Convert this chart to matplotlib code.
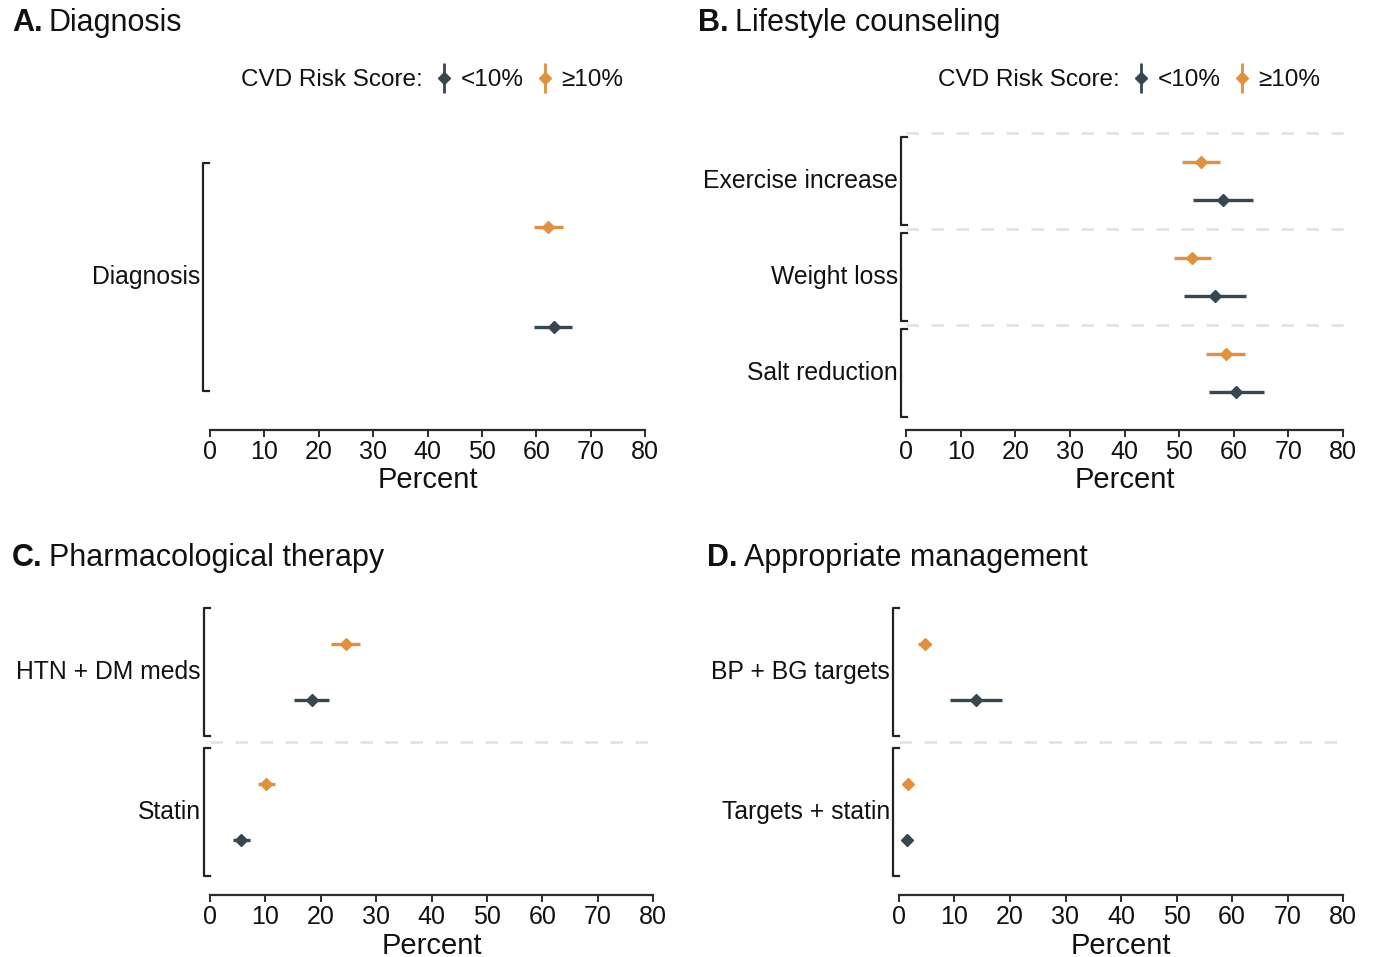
import matplotlib
matplotlib.use("Agg")
import matplotlib.pyplot as plt
from matplotlib.lines import Line2D
import matplotlib.transforms as mtransforms

plt.rcParams['font.family'] = ['Liberation Sans', 'DejaVu Sans']

DARK = '#37474f'
ORANGE = '#e0913f'
AXCOL = '#2b2b2b'

# panel data: groups listed top to bottom
a_groups = ['Diagnosis']
a_lo_est = [63.2]
a_lo_ci = [(59.6, 66.6)]
a_hi_est = [62.2]
a_hi_ci = [(59.6, 65.0)]

b_groups = ['Exercise increase', 'Weight loss', 'Salt reduction']
b_lo_est = [58.0, 56.5, 60.5]
b_lo_ci = [(52.6, 63.5), (50.9, 62.2), (55.4, 65.6)]
b_hi_est = [54.0, 52.4, 58.5]
b_hi_ci = [(50.6, 57.5), (49.0, 55.9), (55.0, 62.1)]

c_groups = ['HTN + DM meds', 'Statin']
c_lo_est = [18.4, 5.6]
c_lo_ci = [(15.2, 21.5), (4.1, 7.2)]
c_hi_est = [24.5, 10.2]
c_hi_ci = [(21.8, 27.1), (8.7, 11.8)]

d_groups = ['BP + BG targets', 'Targets + statin']
d_lo_est = [13.8, 1.4]
d_lo_ci = [(9.2, 18.5), (0.8, 2.0)]
d_hi_est = [4.6, 1.65]
d_hi_ci = [(3.5, 5.8), (1.0, 2.3)]

xticks = [0, 10, 20, 30, 40, 50, 60, 70, 80]

W, H = 1374, 957
fig = plt.figure(figsize=(W / 100, H / 100), dpi=100)


def px_axes(left, right, top, bottom):
    return fig.add_axes([left / W, 1 - bottom / H, (right - left) / W, (bottom - top) / H])


def draw_panel(ax, groups, lo_est, lo_ci, hi_est, hi_ci, pad_bottom, top_line, bracket_dx):
    n = len(groups)
    ax.set_xlim(0, 80)
    ax.set_ylim(-0.5 - pad_bottom, n - 0.5)
    for s in ['top', 'right', 'left']:
        ax.spines[s].set_visible(False)
    ax.spines['bottom'].set_color(AXCOL)
    ax.spines['bottom'].set_linewidth(1.6)
    ax.set_yticks([])
    ax.set_xticks(xticks)
    ax.tick_params(axis='x', length=5, width=1.4, color=AXCOL, labelsize=18, pad=2,
                   labelcolor='#111111')
    ax.set_xlabel('Percent', fontsize=21, labelpad=2, color='#111111')

    trans = mtransforms.blended_transform_factory(ax.transAxes, ax.transData)
    bx = -bracket_dx / ax.bbox.width
    sx = 6 / ax.bbox.width
    for i, g in enumerate(groups):
        yc = n - 1 - i
        # error bars
        lo, hi = lo_ci[i]
        ax.plot([lo, hi], [yc - 0.2, yc - 0.2], color=DARK, lw=2.4, solid_capstyle='butt')
        ax.plot(lo_est[i], yc - 0.2, marker='D', color=DARK, ms=6.5)
        lo, hi = hi_ci[i]
        ax.plot([lo, hi], [yc + 0.2, yc + 0.2], color=ORANGE, lw=2.4, solid_capstyle='butt')
        ax.plot(hi_est[i], yc + 0.2, marker='D', color=ORANGE, ms=6.5)
        # bracket
        y0, y1 = yc - 0.455, yc + 0.455
        ax.plot([bx + sx, bx, bx, bx + sx], [y0, y0, y1, y1], color='#222222', lw=1.6,
                transform=trans, clip_on=False)
        ax.text(bx - 3 / ax.bbox.width, yc, g, transform=trans, ha='right', va='center',
                fontsize=17.8, color='#111111')
        # separators
        if i > 0 or top_line:
            ax.plot([0, 1], [yc + 0.5, yc + 0.5], color='#e3e3e3', lw=2,
                    dashes=(4.5, 4.5), transform=trans, clip_on=False)


def add_legend(ax):
    blank = Line2D([], [], linestyle='None')
    h_lo = (Line2D([], [], color=DARK, marker='|', ms=22, mew=2, linestyle='None'),
            Line2D([], [], color=DARK, marker='D', ms=6, linestyle='None'))
    h_hi = (Line2D([], [], color=ORANGE, marker='|', ms=22, mew=2, linestyle='None'),
            Line2D([], [], color=ORANGE, marker='D', ms=6, linestyle='None'))
    tr = mtransforms.blended_transform_factory(ax.transAxes, fig.transFigure)
    leg = ax.legend([blank, h_lo, h_hi], ['CVD Risk Score:', '<10%', '\u226510%'],
                    ncol=3, loc='center', bbox_to_anchor=(0.485, 1 - 80 / H),
                    bbox_transform=tr, frameon=False, fontsize=17.5, handlelength=0.5,
                    handletextpad=0.45, columnspacing=0.6)
    for t in leg.get_texts():
        t.set_color('#111111')


# panel A
axA = px_axes(210, 645, 152, 430)
draw_panel(axA, a_groups, a_lo_est, a_lo_ci, a_hi_est, a_hi_ci, 28 / 250, False, 7)
add_legend(axA)

# panel B
axB = px_axes(906, 1343, 133, 430)
draw_panel(axB, b_groups, b_lo_est, b_lo_ci, b_hi_est, b_hi_ci, 9 / 96, True, 5)
add_legend(axB)

# panel C
axC = px_axes(210, 653, 602, 895)
draw_panel(axC, c_groups, c_lo_est, c_lo_ci, c_hi_est, c_hi_ci, 13 / 140, False, 6)

# panel D
axD = px_axes(899, 1343, 602, 895)
draw_panel(axD, d_groups, d_lo_est, d_lo_ci, d_hi_est, d_hi_ci, 13 / 140, False, 6)

# panel titles
for x, y, letter, title in [(12, 23, 'A.', 'Diagnosis'), (698, 23, 'B.', 'Lifestyle counseling'),
                            (12, 558, 'C.', 'Pharmacological therapy'),
                            (707, 558, 'D.', 'Appropriate management')]:
    t = fig.text(x / W, 1 - y / H, letter, fontsize=22, fontweight='bold', va='center',
                 ha='left', color='#111111')
    fig.canvas.draw()
    bb = t.get_window_extent()
    fig.text((bb.x1 + 6) / W, 1 - y / H, title, fontsize=22, va='center', ha='left',
             color='#111111')

fig.savefig('out.png', dpi=100, facecolor='white')
